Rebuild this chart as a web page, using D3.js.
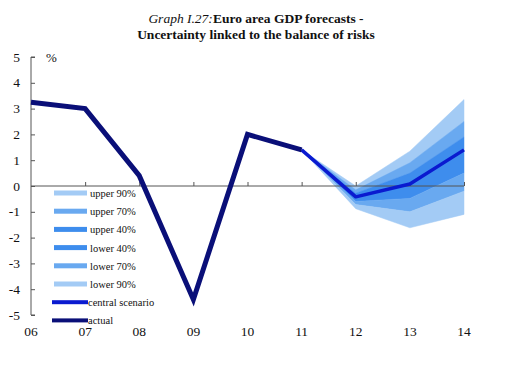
<!DOCTYPE html>
<html><head><meta charset="utf-8">
<script src="https://cdn.jsdelivr.net/npm/d3@7"></script>
<style>body{margin:0;background:#fff}svg{display:block}text{font-family:"Liberation Serif","Times New Roman",serif;fill:#111}</style>
</head><body><svg id="c" width="512" height="384"></svg>
<script>
const years = ["06","07","08","09","10","11","12","13","14"];
const actual = [3.25, 3.0, 0.4, -4.4, 2.0, 1.4];
const fcYears = ["11","12","13","14"];
const central = [1.4, -0.42, 0.08, 1.4];
const upper90 = [1.4, 0.0, 1.35, 3.35];
const upper70 = [1.4, -0.15, 0.9, 2.5];
const upper40 = [1.4, -0.28, 0.5, 1.9];
const lower40 = [1.4, -0.6, -0.48, 0.5];
const lower70 = [1.4, -0.72, -1.0, -0.2];
const lower90 = [1.4, -0.88, -1.62, -1.1];
const yTicks = [5,4,3,2,1,0,-1,-2,-3,-4,-5];
const legendLabels = ["upper 90%","upper 70%","upper 40%","lower 40%","lower 70%","lower 90%","central scenario","actual"];

const light = "#a3cbf5", mid = "#69a9f0", dark = "#3e8ded";
const centralCol = "#0a1ad0", actualCol = "#0a0f78";

const svg = d3.select("#c");
const x = d3.scalePoint().domain(years).range([31, 464]);
const y = d3.scaleLinear().domain([-5, 5]).range([315, 57]);

// title
const t1 = svg.append("text").attr("x", 256).attr("y", 23).attr("text-anchor","middle").style("font-size","13.5px");
t1.append("tspan").style("font-style","italic").text("Graph I.27:");
t1.append("tspan").style("font-weight","bold").text("Euro area GDP forecasts -");
svg.append("text").attr("x",256).attr("y",39).attr("text-anchor","middle").style("font-size","13.5px").style("font-weight","bold").text("Uncertainty linked to the balance of risks");

// fan bands
const bands = [[upper90, upper70, light],[upper70, upper40, mid],[upper40, lower40, dark],[lower40, lower70, mid],[lower70, lower90, light]];
const area = d3.area().x(d=>x(d.yr)).y0(d=>y(d.lo)).y1(d=>y(d.hi));
bands.forEach(([hi, lo, col]) => {
  const data = fcYears.map((yr,i)=>({yr, hi:hi[i], lo:lo[i]}));
  svg.append("path").attr("d", area(data)).attr("fill", col).attr("stroke", col).attr("stroke-width",0.5);
});

// y axis
const yAxis = d3.axisRight(y).tickValues(yTicks).tickSize(4).tickFormat("");
const gy = svg.append("g").attr("transform","translate(31,0)").call(yAxis);
gy.selectAll("path,line").attr("stroke","#555");
gy.select(".domain").attr("d", `M4,${y(5)}H0V${y(-5)}H4`);
yTicks.forEach(v => {
  svg.append("text").attr("x", 20).attr("y", y(v)+4.5).attr("text-anchor","end").style("font-size","13.5px").text(v);
});
svg.append("text").attr("x", 46).attr("y", 62).style("font-size","13px").text("%");

// x axis at zero
const xAxis = d3.axisTop(x).tickSize(4).tickFormat("");
const gx = svg.append("g").attr("transform",`translate(0,${y(0)})`).call(xAxis);
gx.selectAll("path,line").attr("stroke","#555");
gx.select(".domain").attr("d", `M${x("06")},0H${x("14")}`);
gx.selectAll(".tick").filter(d=>d==="06").remove();
years.forEach(v => {
  svg.append("text").attr("x", x(v)).attr("y", 336).attr("text-anchor","middle").style("font-size","13.5px").text(v);
});

// lines
const line = d3.line().x(d=>x(d[0])).y(d=>y(d[1]));
svg.append("path").attr("d", line(fcYears.map((yr,i)=>[yr, central[i]]))).attr("fill","none").attr("stroke",centralCol).attr("stroke-width",3.5).attr("stroke-linejoin","round");
svg.append("path").attr("d", line(years.slice(0, actual.length).map((yr,i)=>[yr, actual[i]]))).attr("fill","none").attr("stroke",actualCol).attr("stroke-width",5).attr("stroke-linejoin","miter");

// legend
const legCols = [light, mid, dark, dark, mid, light, centralCol, actualCol];
legendLabels.forEach((lab, i) => {
  const ly = 193 + i*18.2;
  if (i < 6) {
    svg.append("rect").attr("x",54).attr("y",ly-2.5).attr("width",33).attr("height",5).attr("fill",legCols[i]);
  } else {
    svg.append("rect").attr("x",52).attr("y",ly-2).attr("width",36).attr("height",4).attr("fill",legCols[i]);
  }
  svg.append("text").attr("x", i<6 ? 90 : 88).attr("y", ly+4).style("font-size","10.5px").text(lab);
});
</script></body></html>
